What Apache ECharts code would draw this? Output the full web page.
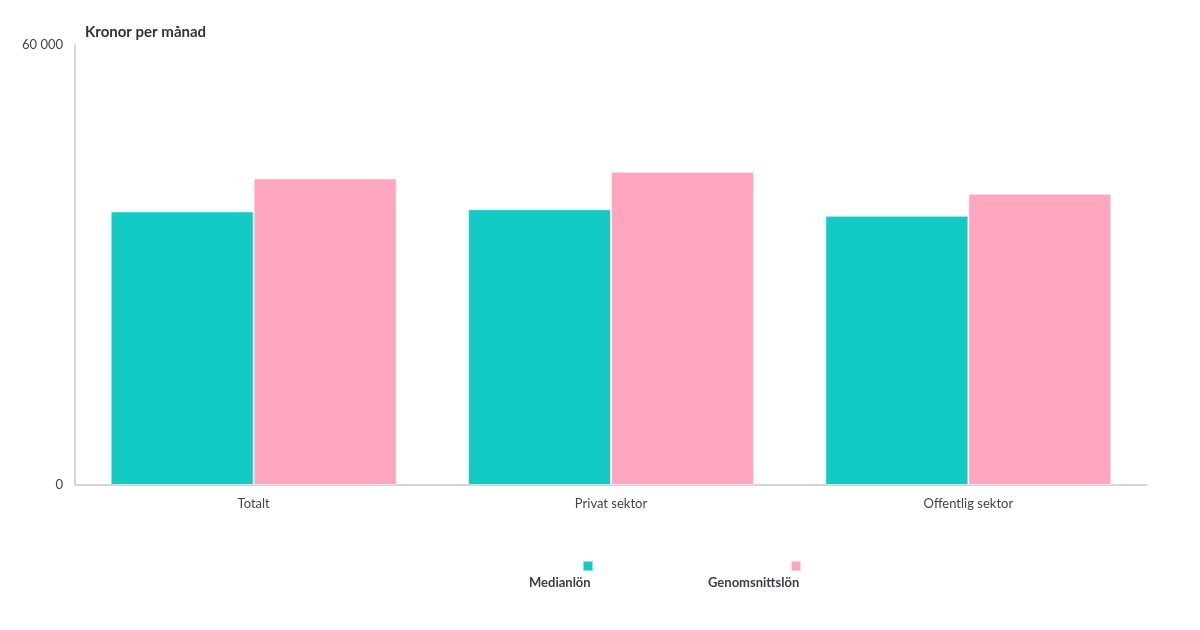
<!DOCTYPE html>
<html>
<head>
<meta charset="utf-8">
<script src="https://cdn.jsdelivr.net/npm/echarts@6/dist/echarts.min.js"></script>
<style>
  html, body { margin: 0; padding: 0; background: #fff; }
  #chart { width: 1200px; height: 630px; }
</style>
</head>
<body>
<div id="chart"></div>
<script>
const categories = ['Totalt', 'Privat sektor', 'Offentlig sektor']
const seriesNames = ['Medianlön', 'Genomsnittslön']
const medianValues = [37300, 37600, 36700]
const meanValues = [41800, 42700, 39700]
const colors = ['#12cbc5', '#ffa5bd']
const yTicks = [0, 60000]

const font = 'Lato, "Noto Sans", sans-serif'
const fmt = (v) => String(v).replace(/\B(?=(\d{3})+(?!\d))/g, ' ')

const chart = echarts.init(document.getElementById('chart'))

// legend: icon on top, label underneath, both right-aligned
const iconLegend = (name, left) => ({
  data: [name],
  left, top: 555,
  icon: 'rect', itemWidth: 10, itemHeight: 10,
  formatter: () => '',
  textStyle: { fontSize: 1 },
})
const textLegend = (name, left) => ({
  data: [name],
  left, top: 571,
  icon: 'rect', itemWidth: 0, itemHeight: 0,
  textStyle: { fontFamily: font, fontSize: 13, fontWeight: 'bold', color: '#3a3f4a' },
})

const option = {
  backgroundColor: '#fff',
  color: colors,
  animation: false,
  title: {
    text: 'Kronor per månad',
    left: 80, top: 20,
    textStyle: { fontFamily: font, fontSize: 15, fontWeight: 'bold', color: '#333' },
  },
  legend: [
    iconLegend(seriesNames[0], 577),
    iconLegend(seriesNames[1], 785),
    textLegend(seriesNames[0], 518),
    textLegend(seriesNames[1], 697),
  ],
  grid: { left: 75, right: 53, top: 45, bottom: 145 },
  xAxis: {
    type: 'category',
    data: categories,
    axisLine: { lineStyle: { color: '#c8c8c8', width: 1.5 } },
    axisTick: { show: false },
    axisLabel: { fontFamily: font, fontSize: 13, color: '#444', margin: 12 },
  },
  yAxis: {
    type: 'value',
    min: yTicks[0],
    max: yTicks[1],
    interval: yTicks[1] - yTicks[0],
    axisLine: { show: true, lineStyle: { color: '#c8c8c8', width: 1.5 } },
    axisTick: { show: false },
    splitLine: { show: false },
    axisLabel: { fontFamily: font, fontSize: 13, color: '#444', margin: 12, formatter: fmt },
  },
  series: [
    {
      name: seriesNames[0], type: 'bar', data: medianValues,
      barGap: '0%', barCategoryGap: '20%',
      itemStyle: { borderColor: 'rgba(255,255,255,0.5)', borderWidth: 1 },
    },
    {
      name: seriesNames[1], type: 'bar', data: meanValues,
      barGap: '0%', barCategoryGap: '20%',
      itemStyle: { borderColor: 'rgba(255,255,255,0.5)', borderWidth: 1 },
    },
  ],
}

chart.setOption(option)
</script>
</body>
</html>
